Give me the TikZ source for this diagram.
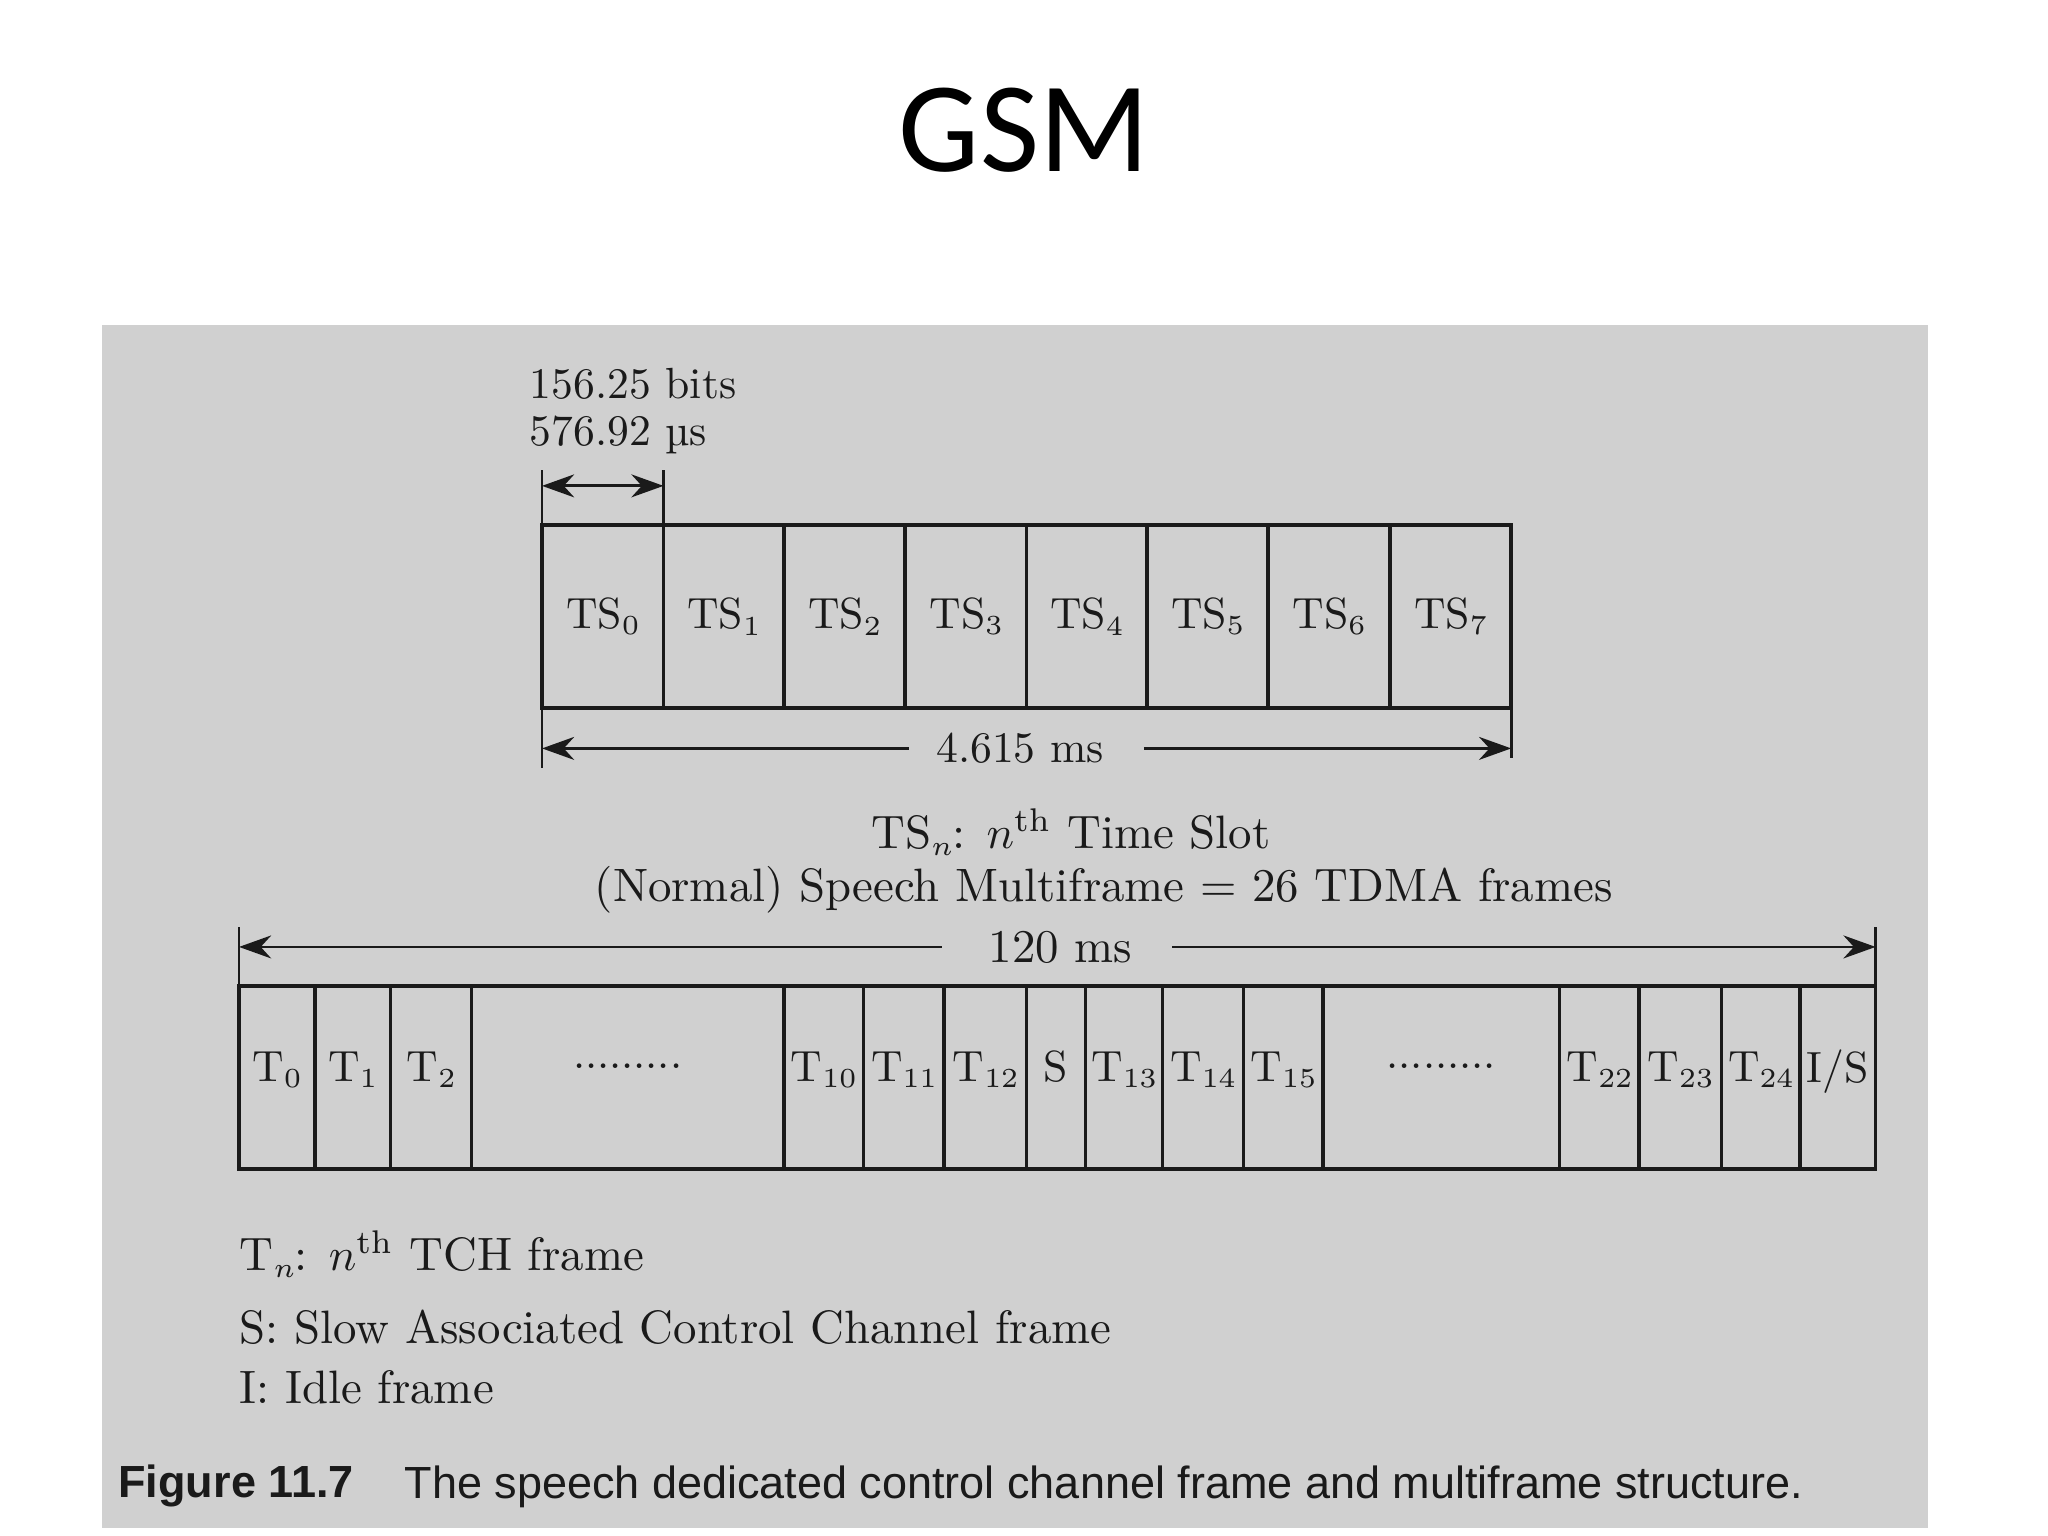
\documentclass[tikz,border=0pt]{standalone}
\usepackage{fontspec}
\newfontfamily\titlefont{Carlito}
\newfontfamily\capfont{Liberation Sans}
\usetikzlibrary{arrows.meta}
\definecolor{bgray}{HTML}{D0D0D0}
\definecolor{ink}{HTML}{1A1A1A}
\newcommand\mydotrow{.........}
\newcommand\lowsub[1]{\raisebox{-0.35ex}{\fontsize{6}{7}\selectfont #1}}
\begin{document}
\begin{tikzpicture}[x=0.01cm,y=-0.01cm,
  cell/.style={draw=ink,line width=0.8pt,inner sep=0,outer sep=0,minimum height=1.4cm,text=ink,font=\fontsize{9.5}{11}\selectfont},
  txt/.style={text=ink,font=\fontsize{9.5}{11}\selectfont,inner sep=0},
  lgd/.style={text=ink,font=\fontsize{10.2}{12}\selectfont,inner sep=0,anchor=west},
  arr/.style={draw=ink,line width=0.6pt},
  tick/.style={draw=ink,line width=0.6pt}]
\useasboundingbox (0,0) rectangle (1568,1176);
\fill[white] (0,0) rectangle (1568,1176);
\node[font=\titlefont\fontsize{28}{32}\selectfont] (title) at (784,100) {GSM};
\fill[bgray] (78,249) rectangle (1476,1170);
% top frame
\foreach \a/\b/\t [count=\i] in {415/508/0,508/600/1,600/693/2,693/786/3,786/878/4,878/971/5,971/1064/6,1064/1157/7}
  \node[cell,minimum width={(\b-\a)*0.01cm}] (ts\i) at ({(\a+\b)/2},472) {TS\lowsub{\t}};
\node[txt,anchor=west] (bits) at (405,294) {156.25 bits};
\node[txt,anchor=west] (mus) at (405,333) {576.92 µs};
\coordinate (t1a) at (415,360); \coordinate (t1b) at (508,360);
\draw[tick] (t1a) -- (ts1.north west); \draw[tick] (t1b) -- (ts1.north east);
\coordinate (a1) at (415,372); \coordinate (b1) at (508,372);
\draw[arr,{Stealth[length=7pt,width=5pt]}-{Stealth[length=7pt,width=5pt]}] (a1) -- (b1);
\coordinate (l1) at (415,588); \coordinate (r1) at (1157,580);
\draw[tick] (ts1.south west) -- (l1); \draw[tick] (ts8.south east) -- (r1);
\node[txt] (fr) at (781,573) {4.615 ms};
\coordinate (a2) at (415,573); \coordinate (b2) at (1157,573);
\draw[arr,{Stealth[length=7pt,width=5pt]}-] (a2) -- ([xshift=-0.2cm]fr.west);
\draw[arr,-{Stealth[length=7pt,width=5pt]}] ([xshift=0.3cm]fr.east) -- (b2);
\node[lgd,anchor=center] (tsn) at (820,637) {TS\lowsub{$n$}: $n^{\mathrm{th}}$ Time Slot};
\node[lgd,anchor=center] (norm) at (845,681) {(Normal) Speech Multiframe = 26 TDMA frames};
% multiframe
\foreach \a/\b/\t [count=\i] in {183/241/{T\lowsub{0}},241/299/{T\lowsub{1}},299/361/{T\lowsub{2}},361/600/\mydotrow,600/661/{T\lowsub{10}},661/723/{T\lowsub{11}},723/786/{T\lowsub{12}},786/831/S,831/890/{T\lowsub{13}},890/952/{T\lowsub{14}},952/1013/{T\lowsub{15}},1013/1194/\mydotrow,1194/1255/{T\lowsub{22}},1255/1318/{T\lowsub{23}},1318/1378/{T\lowsub{24}},1378/1436/{I/S}}
  \node[cell,minimum width={(\b-\a)*0.01cm}] (m\i) at ({(\a+\b)/2},825) {\raisebox{1.2ex}{\t}};
\coordinate (l2) at (183,710); \coordinate (r2) at (1436,710);
\draw[tick] (l2) -- (m1.north west); \draw[tick] (r2) -- (m16.north east);
\node[lgd,anchor=center] (ms) at (812,725) {120 ms};
\coordinate (a3) at (183,725); \coordinate (b3) at (1436,725);
\draw[arr,{Stealth[length=7pt,width=5pt]}-] (a3) -- ([xshift=-0.35cm]ms.west);
\draw[arr,-{Stealth[length=7pt,width=5pt]}] ([xshift=0.3cm]ms.east) -- (b3);
% legend
\node[lgd] (lg1) at (183,960) {T\lowsub{$n$}: $n^{\mathrm{th}}$ TCH frame};
\node[lgd] (lg2) at (183,1016) {S: Slow Associated Control Channel frame};
\node[lgd] (lg3) at (183,1062) {I: Idle frame};
\node[anchor=west,inner sep=0,text=ink,font=\capfont\bfseries\fontsize{9.8}{11}\selectfont] (fig) at (90,1138) {Figure 11.7};
\node[anchor=west,inner sep=0,text=ink,font=\capfont\fontsize{9.8}{11}\selectfont] (cap) at (309,1138) {The speech dedicated control channel frame and multiframe structure.};
\end{tikzpicture}
\end{document}
